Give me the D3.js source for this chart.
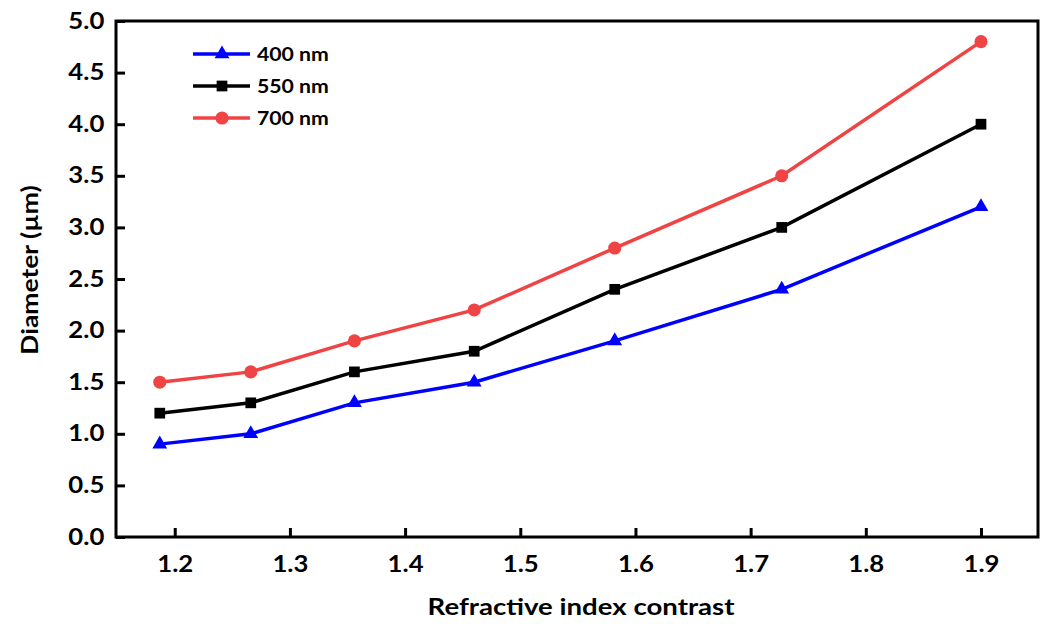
<!DOCTYPE html>
<html>
<head>
<meta charset="utf-8">
<script src="https://cdn.jsdelivr.net/npm/d3@7"></script>
<style>
  body { margin: 0; background: #fff; }
  text { font-family: Lato, "Open Sans", sans-serif; font-weight: bold; fill: #000; }
</style>
</head>
<body>
<svg id="chart" width="1046" height="624"></svg>
<script>
// data
var contrast = [1.187, 1.266, 1.356, 1.46, 1.582, 1.727, 1.9];
var d400 = [0.9, 1.0, 1.3, 1.5, 1.9, 2.4, 3.2];
var d550 = [1.2, 1.3, 1.6, 1.8, 2.4, 3.0, 4.0];
var d700 = [1.5, 1.6, 1.9, 2.2, 2.8, 3.5, 4.8];
var xTicks = [1.2, 1.3, 1.4, 1.5, 1.6, 1.7, 1.8, 1.9];
var yTicks = [0, 0.5, 1, 1.5, 2, 2.5, 3, 3.5, 4, 4.5, 5];

var series = [
  {name: '400 nm', values: d400, color: '#0000ff', marker: 'triangle'},
  {name: '550 nm', values: d550, color: '#000000', marker: 'square'},
  {name: '700 nm', values: d700, color: '#f04343', marker: 'circle'}
];

var svg = d3.select('#chart');
var plotLeft = 116, plotRight = 1038, plotTop = 21, plotBottom = 537;
var stretch = 'scale(1.17,1)';

var x = d3.scaleLinear().domain([1.149, 1.9495]).range([plotLeft, plotRight]);
var y = d3.scaleLinear().domain([0, 5]).range([plotBottom, plotTop]);

function markerPath(type) {
  if (type === 'triangle') return d3.symbol().type(d3.symbolTriangle).size(95)();
  if (type === 'square') return d3.symbol().type(d3.symbolSquare).size(115)();
  return d3.symbol().type(d3.symbolCircle).size(135)();
}

// frame
svg.append('rect')
  .attr('x', plotLeft).attr('y', plotTop)
  .attr('width', plotRight - plotLeft).attr('height', plotBottom - plotTop)
  .attr('fill', 'none').attr('stroke', '#000').attr('stroke-width', 3);

// axes, ticks pointing inward
var xAxis = svg.append('g').attr('transform', 'translate(0,' + plotBottom + ')')
  .call(d3.axisBottom(x).tickValues(xTicks).tickFormat(d3.format('.1f')).tickSizeInner(-9).tickSizeOuter(0).tickPadding(19));
var yAxis = svg.append('g').attr('transform', 'translate(' + plotLeft + ',0)')
  .call(d3.axisLeft(y).tickValues(yTicks).tickFormat(d3.format('.1f')).tickSizeInner(-9).tickSizeOuter(0).tickPadding(10));
[xAxis, yAxis].forEach(function (a) {
  a.select('.domain').remove();
  a.selectAll('.tick line').attr('stroke', '#000').attr('stroke-width', 3);
  a.selectAll('.tick text')
    .style('font-size', '22px').style('font-family', 'Lato, "Open Sans", sans-serif').style('font-weight', 'bold')
    .attr('fill', '#000').attr('transform', stretch);
});

// axis titles
svg.append('text')
  .attr('transform', 'translate(' + ((plotLeft + plotRight) / 2 + 4) + ',615) scale(1.2,1)')
  .attr('text-anchor', 'middle').style('font-size', '23px')
  .text('Refractive index contrast');
svg.append('text')
  .attr('transform', 'translate(38,' + 270 + ') rotate(-90) scale(1.15,1)')
  .attr('text-anchor', 'middle').style('font-size', '23px')
  .text('Diameter (\u00b5m)');

// lines and markers
var line = d3.line()
  .x(function (d, i) { return x(contrast[i]); })
  .y(function (d) { return y(d); });

series.forEach(function (s) {
  var g = svg.append('g');
  g.append('path')
    .attr('d', line(s.values))
    .attr('fill', 'none').attr('stroke', s.color).attr('stroke-width', 3.5);
  g.selectAll('path.pt').data(s.values).enter().append('path')
    .attr('class', 'pt')
    .attr('d', markerPath(s.marker))
    .attr('transform', function (d, i) { return 'translate(' + x(contrast[i]) + ',' + y(d) + ')'; })
    .attr('fill', s.color);
});

// legend
var legend = svg.append('g').attr('transform', 'translate(193,54)');
series.forEach(function (s, i) {
  var row = legend.append('g').attr('transform', 'translate(0,' + (i * 32) + ')');
  row.append('line').attr('x1', 0).attr('x2', 57).attr('y1', 0).attr('y2', 0)
    .attr('stroke', s.color).attr('stroke-width', 3.5);
  row.append('path').attr('d', markerPath(s.marker))
    .attr('transform', 'translate(29,0)').attr('fill', s.color);
  row.append('text').attr('transform', 'translate(64,7) scale(1.18,1)').style('font-size', '18px').text(s.name);
});
</script>
</body>
</html>
